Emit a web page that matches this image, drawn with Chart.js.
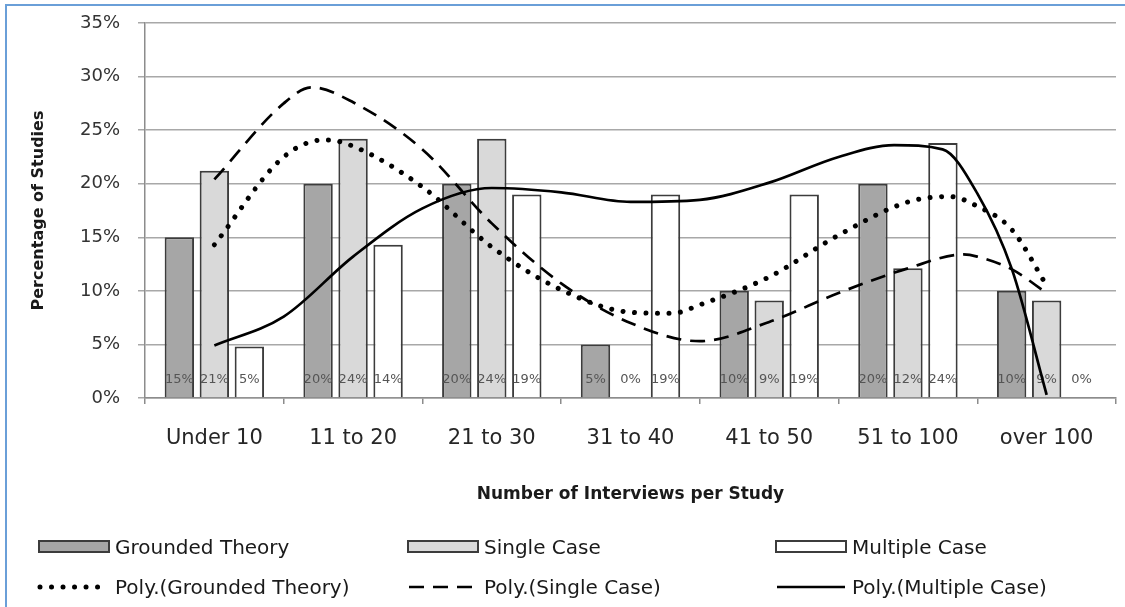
<!DOCTYPE html>
<html>
<head>
<meta charset="utf-8">
<script src="https://cdn.jsdelivr.net/npm/chart.js@4/dist/chart.umd.min.js"></script>
<style>
  body { margin: 0; background: #fff; }
  #wrap { position: relative; width: 1125px; height: 607px; overflow: hidden; }
  #wrap canvas { position: absolute; left: 0; top: 0; }
  #frame { position: absolute; left: 5px; top: 4px; width: 1200px; height: 700px;
           border-top: 2px solid #6a9fd8; border-left: 2px solid #6a9fd8; pointer-events: none; }
</style>
</head>
<body>
<div id="wrap">
  <canvas id="bars" width="1125" height="607"></canvas>
  <canvas id="trends" width="1125" height="607"></canvas>
  <div id="frame"></div>
</div>
<script>
const categories = ['Under 10', '11 to 20', '21 to 30', '31 to 40', '41 to 50', '51 to 100', 'over 100'];
const groundedTheory = [15, 20, 20, 5, 10, 20, 10];
const singleCase = [21.2, 24.2, 24.2, 0, 9.1, 12.1, 9.1];
const multipleCase = [4.8, 14.3, 19.0, 19.0, 19.0, 23.8, 0];

// trend lines (x = category position)
const gtTrendX = [0, 0.5, 0.8, 1, 1.5, 2, 2.5, 3, 3.3, 3.5, 4, 4.5, 5, 5.3, 5.5, 5.75, 6];
const gtTrendY = [14.3, 22.5, 24.1, 23.5, 19.7, 14.1, 10.1, 8.0, 7.9, 8.7, 11.3, 15.2, 18.3, 18.8, 17.9, 15.7, 10.5];
const scTrendX = [0, 0.5, 0.7, 1, 1.5, 2, 2.5, 3, 3.5, 4, 4.5, 5, 5.4, 5.5, 5.75, 6];
const scTrendY = [20.4, 27.5, 29.0, 27.6, 23.2, 16.3, 10.7, 7.0, 5.3, 7.1, 9.8, 12.1, 13.4, 13.2, 12.0, 9.8];
const mcTrendX = [0, 0.5, 1, 1.5, 2, 2.5, 3, 3.5, 4, 4.5, 4.9, 5.25, 5.5, 5.75, 6];
const mcTrendY = [4.9, 7.6, 13.2, 17.7, 19.6, 19.2, 18.3, 18.5, 20.1, 22.5, 23.6, 23.2, 19.1, 12.0, 0.3];

const yMin = 0, yMax = 35, yStep = 5;

const pts = (xs, ys) => xs.map((x, i) => ({ x: x, y: ys[i] }));
const FONT = 'DejaVu Sans';

const barStyle = { borderColor: '#3c3c3c', borderWidth: 2, categoryPercentage: 0.757, barPercentage: 0.84 };
const lineStyle = { borderColor: '#000', pointRadius: 0, fill: false, cubicInterpolationMode: 'monotone' };

// value labels at the foot of each bar
const barLabels = {
  id: 'barLabels',
  afterDatasetsDraw(chart) {
    const ctx = chart.ctx;
    const y = chart.scales.y.getPixelForValue(1.7);
    ctx.save();
    ctx.font = '13px ' + FONT;
    ctx.fillStyle = '#555';
    ctx.textAlign = 'center';
    ctx.textBaseline = 'middle';
    chart.data.datasets.forEach((d, di) => {
      chart.getDatasetMeta(di).data.forEach((bar, i) => {
        ctx.fillText(Math.round(d.data[i]) + '%', bar.x, y);
      });
    });
    ctx.restore();
  }
};

const barChart = new Chart(document.getElementById('bars'), {
  type: 'bar',
  data: {
    labels: categories,
    datasets: [
      { label: 'Grounded Theory', data: groundedTheory, backgroundColor: '#a6a6a6', ...barStyle },
      { label: 'Single Case', data: singleCase, backgroundColor: '#d9d9d9', ...barStyle },
      { label: 'Multiple Case', data: multipleCase, backgroundColor: '#ffffff', ...barStyle }
    ]
  },
  options: {
    responsive: false,
    devicePixelRatio: 1,
    animation: false,
    layout: { padding: { top: 23, right: 9, left: 0, bottom: 0 } },
    plugins: { legend: { display: false }, tooltip: { enabled: false } },
    scales: {
      x: {
        offset: true,
        grid: { offset: true, drawOnChartArea: false, drawTicks: true, tickLength: 6, color: '#8c8c8c', lineWidth: 1.5 },
        border: { color: '#8c8c8c', width: 1.5 },
        ticks: { font: { family: FONT, size: 21 }, color: '#262626', padding: 22, maxRotation: 0 },
        title: { display: true, text: 'Number of Interviews per Study', color: '#1a1a1a',
                 font: { family: FONT, size: 17, weight: 'bold' }, padding: { top: 0, bottom: 102 } },
        afterFit(scale) { scale.height = 209; }
      },
      y: {
        min: yMin, max: yMax,
        ticks: { stepSize: yStep, callback: v => v + '%', font: { family: FONT, size: 18 }, color: '#333', padding: 18 },
        grid: { color: '#a8a8a8', lineWidth: 1.5, tickLength: 7 },
        border: { color: '#8c8c8c', width: 1.5 },
        title: { display: true, text: 'Percentage of Studies', color: '#1a1a1a',
                 font: { family: FONT, size: 16, weight: 'bold' }, padding: { top: 29, bottom: 0 } },
        afterFit(scale) {
          scale.width = 145;
          scale.paddingTop = 0;
          scale.paddingBottom = 0;
        }
      }
    }
  },
  plugins: [barLabels]
});

// legend laid out in three columns and two rows like the original
const legendGrid = {
  id: 'legendGrid',
  afterDraw(chart) {
    const ctx = chart.ctx;
    const cols = [39, 408, 776];
    const rows = [547, 587];
    const items = [...barChart.data.datasets, ...chart.data.datasets];
    ctx.save();
    ctx.font = '20px ' + FONT;
    ctx.textBaseline = 'middle';
    items.forEach((d, i) => {
      const x = cols[i % 3], y = rows[Math.floor(i / 3)];
      if (i >= 3) {
        ctx.save();
        ctx.strokeStyle = d.borderColor;
        ctx.lineWidth = d.borderWidth;
        ctx.lineCap = d.borderCapStyle || 'butt';
        ctx.setLineDash(d.borderDash || []);
        ctx.beginPath();
        ctx.moveTo(x + 1, y);
        ctx.lineTo(x + 69, y);
        ctx.stroke();
        ctx.restore();
      } else {
        ctx.fillStyle = d.backgroundColor;
        ctx.fillRect(x, y - 6, 70, 11);
        ctx.strokeStyle = '#3c3c3c';
        ctx.lineWidth = 2;
        ctx.strokeRect(x, y - 6, 70, 11);
      }
      ctx.fillStyle = '#1a1a1a';
      ctx.fillText(d.label, x + 76, y + 2);
    });
    ctx.restore();
  }
};

// trend lines on a transparent chart laid exactly over the bar chart's plot area
const area = barChart.chartArea;
new Chart(document.getElementById('trends'), {
  type: 'line',
  data: {
    datasets: [
      { label: 'Poly.(Grounded Theory)', data: pts(gtTrendX, gtTrendY), borderWidth: 5,
        borderDash: [0.01, 11.5], borderCapStyle: 'round', ...lineStyle },
      { label: 'Poly.(Single Case)', data: pts(scTrendX, scTrendY), borderWidth: 2.7,
        borderDash: [15, 9], ...lineStyle },
      { label: 'Poly.(Multiple Case)', data: pts(mcTrendX, mcTrendY), borderWidth: 2.7, ...lineStyle }
    ]
  },
  options: {
    responsive: false,
    devicePixelRatio: 1,
    animation: false,
    layout: { padding: { left: area.left, top: area.top, right: 1125 - area.right, bottom: 607 - area.bottom } },
    plugins: { legend: { display: false }, tooltip: { enabled: false } },
    scales: {
      x: { type: 'linear', display: false, min: -0.5, max: categories.length - 0.5 },
      y: { display: false, min: yMin, max: yMax }
    }
  },
  plugins: [legendGrid]
});
</script>
</body>
</html>
